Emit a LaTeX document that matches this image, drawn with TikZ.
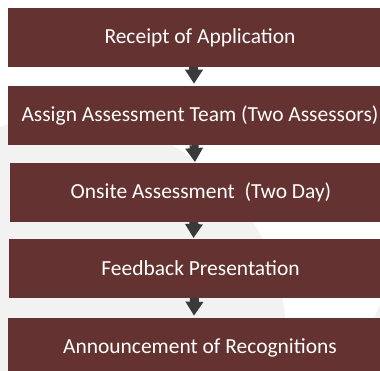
\documentclass[tikz,border=0pt]{standalone}
\usepackage{fontspec}
\setmainfont{Carlito}
\usetikzlibrary{arrows.meta}
\definecolor{boxred}{HTML}{643230}
\definecolor{arrowgrey}{HTML}{3A3A3A}
\definecolor{bggrey}{HTML}{F2F2F2}
\tikzset{
  stagebox/.style={fill=boxred, draw=none, text=white, inner sep=0pt,
    minimum height=44.25pt, font=\fontsize{16.1}{18}\selectfont},
  flowarrow/.style={draw=arrowgrey, line width=6.75pt,
    -{Triangle[width=12.75pt,length=10.5pt]}, shorten <=-0.1pt}
}
\begin{document}
\begin{tikzpicture}[x=0.75pt,y=-0.75pt]
\useasboundingbox (0,0) rectangle (380,371);
\clip (0,0) rectangle (380,371);
\fill[white] (0,0) rectangle (380,371);
% faint background shape
\fill[bggrey] (0,371) -- (0,127) .. controls (40,110) and (130,120) .. (172,145)
  .. controls (215,172) and (250,212) .. (262,238)
  .. controls (278,272) and (285,300) .. (286,330) -- (286,371) -- cycle;
\fill[bggrey] (373,320) -- (380,305) -- (380,320) -- cycle;
% boxes
\node[stagebox, minimum width=288pt] (a) at (200,37.5) {Receipt of Application};
\node[stagebox, minimum width=288pt] (b) at (200,115.5) {Assign Assessment Team (Two Assessors)};
\node[stagebox, minimum width=286.5pt] (c) at (201,192.5) {Onsite Assessment\ \ (Two Day)};
\node[stagebox, minimum width=287.25pt] (d) at (200.5,268.5) {Feedback Presentation};
\node[stagebox, minimum width=288pt] (e) at (200,347.5) {Announcement of Recognitions};
% arrows
\draw[flowarrow] ([xshift=-4.5pt]a.south) -- ([xshift=-4.5pt,yshift=1.5pt]b.north);
\draw[flowarrow] ([xshift=-4.5pt]b.south) -- ([xshift=-4.5pt,yshift=0.5pt]c.north);
\draw[flowarrow] ([xshift=-5.25pt]c.south) -- ([xshift=-5.25pt,yshift=0.5pt]d.north);
\draw[flowarrow] ([xshift=-4.5pt]d.south) -- ([xshift=-4.5pt,yshift=1.5pt]e.north);
\end{tikzpicture}
\end{document}
